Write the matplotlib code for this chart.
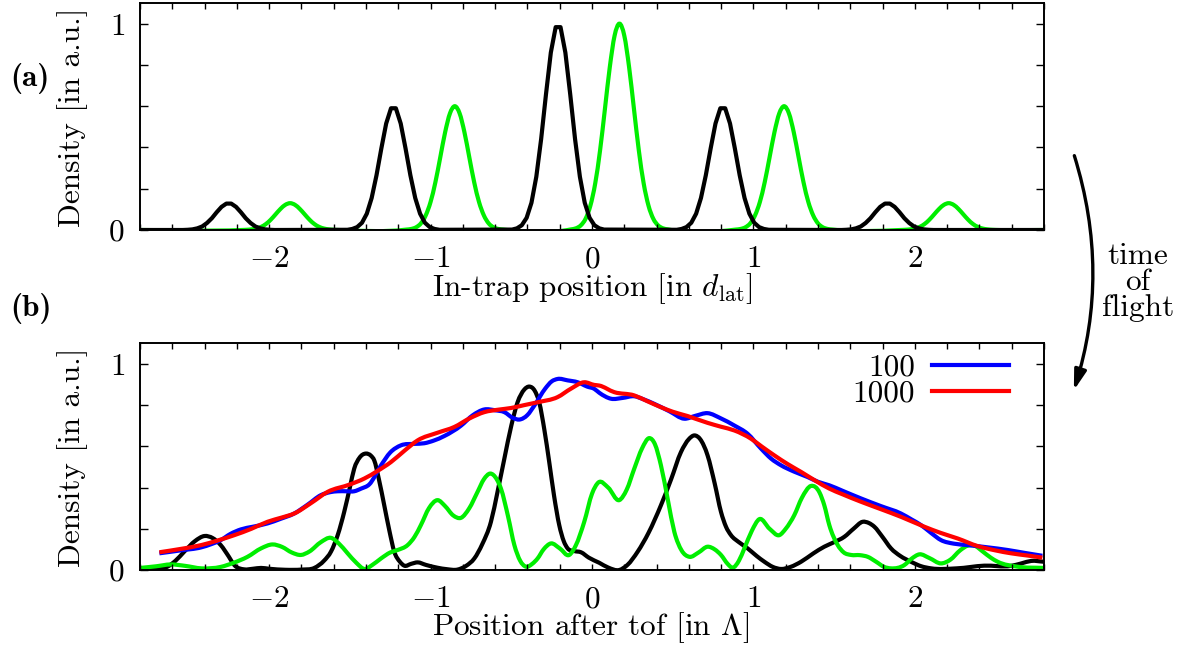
import matplotlib
matplotlib.use("Agg")
import matplotlib.pyplot as plt
from matplotlib.patches import FancyArrowPatch, PathPatch
from matplotlib.path import Path

plt.rcParams["font.family"] = "cmr10"
plt.rcParams["mathtext.fontset"] = "cm"
plt.rcParams["axes.unicode_minus"] = False

# ---------------- panel (a): in-trap densities ----------------
trap_black_x = [
    -2.80, -2.535, -2.505, -2.475, -2.445, -2.415, -2.385, -2.355, -2.325, -2.295, -2.265,
    -2.235, -2.205, -2.175, -2.145, -2.115, -2.085, -2.055, -2.025, -1.995, -1.965,
    -1.515, -1.485, -1.455, -1.425, -1.395, -1.365, -1.335, -1.305, -1.275, -1.245,
    -1.215, -1.185, -1.155, -1.125, -1.095, -1.065, -1.035, -1.005, -0.975, -0.945,
    -0.495, -0.465, -0.435, -0.405, -0.375, -0.345, -0.315, -0.285, -0.255, -0.225,
    -0.195, -0.165, -0.135, -0.105, -0.075, -0.045, -0.015, 0.015, 0.045, 0.075,
    0.525, 0.555, 0.585, 0.615, 0.645, 0.675, 0.705, 0.735, 0.765, 0.795,
    0.825, 0.855, 0.885, 0.915, 0.945, 0.975, 1.005, 1.035, 1.065, 1.095,
    1.545, 1.575, 1.605, 1.635, 1.665, 1.695, 1.725, 1.755, 1.785, 1.815,
    1.845, 1.875, 1.905, 1.935, 1.965, 1.995, 2.025, 2.055, 2.085, 2.115, 2.80,
]
trap_black_y = [
    0.000, 0.000, 0.001, 0.003, 0.008, 0.017, 0.034, 0.057, 0.086, 0.112, 0.128,
    0.128, 0.112, 0.086, 0.057, 0.034, 0.017, 0.008, 0.003, 0.001, 0.000,
    0.001, 0.005, 0.014, 0.035, 0.079, 0.155, 0.265, 0.395, 0.516, 0.590,
    0.590, 0.516, 0.395, 0.265, 0.155, 0.079, 0.035, 0.014, 0.005, 0.001,
    0.002, 0.008, 0.023, 0.059, 0.132, 0.258, 0.441, 0.658, 0.860, 0.983,
    0.983, 0.860, 0.658, 0.441, 0.258, 0.132, 0.059, 0.023, 0.008, 0.002,
    0.001, 0.005, 0.014, 0.035, 0.079, 0.155, 0.265, 0.395, 0.516, 0.590,
    0.590, 0.516, 0.395, 0.265, 0.155, 0.079, 0.035, 0.014, 0.005, 0.001,
    0.000, 0.001, 0.003, 0.008, 0.017, 0.034, 0.057, 0.086, 0.112, 0.128,
    0.128, 0.112, 0.086, 0.057, 0.034, 0.017, 0.008, 0.003, 0.001, 0.000, 0.000,
]

trap_green_x = [
    -2.80,
    -2.17, -2.14, -2.11, -2.08, -2.05, -2.02, -1.99, -1.96, -1.93, -1.90, -1.87,
    -1.84, -1.81, -1.78, -1.75, -1.72, -1.69, -1.66, -1.63, -1.60, -1.57,
    -1.15, -1.12, -1.09, -1.06, -1.03, -1.00, -0.97, -0.94, -0.91, -0.88, -0.85,
    -0.82, -0.79, -0.76, -0.73, -0.70, -0.67, -0.64, -0.61, -0.58, -0.55,
    -0.13, -0.10, -0.07, -0.04, -0.01, 0.02, 0.05, 0.08, 0.11, 0.14, 0.17,
    0.20, 0.23, 0.26, 0.29, 0.32, 0.35, 0.38, 0.41, 0.44, 0.47,
    0.89, 0.92, 0.95, 0.98, 1.01, 1.04, 1.07, 1.10, 1.13, 1.16, 1.19,
    1.22, 1.25, 1.28, 1.31, 1.34, 1.37, 1.40, 1.43, 1.46, 1.49,
    1.91, 1.94, 1.97, 2.00, 2.03, 2.06, 2.09, 2.12, 2.15, 2.18, 2.21,
    2.24, 2.27, 2.30, 2.33, 2.36, 2.39, 2.42, 2.45, 2.48, 2.51,
    2.80,
]
trap_green_y = [
    0.000,
    0.000, 0.001, 0.003, 0.007, 0.015, 0.029, 0.050, 0.076, 0.102, 0.122, 0.130,
    0.122, 0.102, 0.076, 0.050, 0.029, 0.015, 0.007, 0.003, 0.001, 0.000,
    0.002, 0.005, 0.013, 0.032, 0.071, 0.136, 0.232, 0.352, 0.473, 0.565, 0.600,
    0.565, 0.473, 0.352, 0.232, 0.136, 0.071, 0.032, 0.013, 0.005, 0.002,
    0.003, 0.008, 0.022, 0.054, 0.118, 0.226, 0.386, 0.586, 0.788, 0.942, 1.000,
    0.942, 0.788, 0.586, 0.386, 0.226, 0.118, 0.054, 0.022, 0.008, 0.003,
    0.002, 0.005, 0.013, 0.032, 0.071, 0.136, 0.232, 0.352, 0.473, 0.565, 0.600,
    0.565, 0.473, 0.352, 0.232, 0.136, 0.071, 0.032, 0.013, 0.005, 0.002,
    0.000, 0.001, 0.003, 0.007, 0.015, 0.029, 0.050, 0.076, 0.102, 0.122, 0.130,
    0.122, 0.102, 0.076, 0.050, 0.029, 0.015, 0.007, 0.003, 0.001, 0.000,
    0.000,
]

# ---------------- panel (b): densities after time of flight ----------------
tof_black_x = [
    -2.80, -2.70, -2.63, -2.58, -2.526, -2.46, -2.40, -2.35, -2.30, -2.25, -2.216,
    -2.154, -2.10, -2.05, -2.00, -1.90, -1.80, -1.72, -1.66, -1.617, -1.575,
    -1.535, -1.50, -1.473, -1.44, -1.40, -1.37, -1.349, -1.32, -1.287, -1.255,
    -1.225, -1.19, -1.163, -1.12, -1.08, -1.03, -0.957, -0.90, -0.833, -0.78,
    -0.729, -0.68, -0.626, -0.585, -0.543, -0.50, -0.461, -0.42, -0.388, -0.355,
    -0.327, -0.295, -0.265, -0.235, -0.203, -0.175, -0.151, -0.11, -0.068, -0.02,
    0.045, 0.10, 0.169, 0.22, 0.283, 0.35, 0.427, 0.49, 0.551, 0.60,
    0.634, 0.67, 0.716, 0.76, 0.799, 0.83, 0.861, 0.91, 0.964, 1.02,
    1.068, 1.12, 1.171, 1.23, 1.295, 1.37, 1.439, 1.50, 1.563, 1.62,
    1.677, 1.715, 1.749, 1.80, 1.852, 1.91, 1.976, 2.04, 2.10, 2.26,
    2.43, 2.596, 2.66, 2.72, 2.80,
]
tof_black_y = [
    0.000, 0.005, 0.016, 0.045, 0.089, 0.140, 0.165, 0.155, 0.121, 0.065, 0.024,
    0.003, 0.006, 0.010, 0.006, 0.001, 0.002, 0.010, 0.045, 0.089, 0.170,
    0.282, 0.400, 0.492, 0.545, 0.565, 0.555, 0.532, 0.440, 0.314, 0.190,
    0.089, 0.040, 0.021, 0.030, 0.037, 0.025, 0.011, 0.004, 0.002, 0.020,
    0.056, 0.125, 0.234, 0.380, 0.540, 0.700, 0.814, 0.875, 0.890, 0.870,
    0.814, 0.680, 0.524, 0.360, 0.218, 0.140, 0.105, 0.092, 0.086, 0.060,
    0.035, 0.012, 0.000, 0.025, 0.089, 0.180, 0.314, 0.440, 0.572, 0.635,
    0.653, 0.635, 0.556, 0.420, 0.282, 0.210, 0.169, 0.135, 0.105, 0.068,
    0.040, 0.015, 0.005, 0.015, 0.040, 0.080, 0.113, 0.135, 0.161, 0.200,
    0.234, 0.228, 0.210, 0.160, 0.105, 0.068, 0.040, 0.018, 0.008, 0.008,
    0.021, 0.020, 0.032, 0.044, 0.040,
]

tof_green_x = [
    -2.80, -2.70, -2.61, -2.52, -2.42, -2.30, -2.22, -2.134, -2.05, -1.979, -1.92,
    -1.86, -1.803, -1.75, -1.68, -1.617, -1.57, -1.514, -1.46, -1.41, -1.36,
    -1.307, -1.25, -1.204, -1.142, -1.10, -1.06, -1.01, -0.957, -0.91, -0.86,
    -0.812, -0.76, -0.709, -0.67, -0.630, -0.59, -0.564, -0.52, -0.481, -0.445,
    -0.409, -0.37, -0.337, -0.30, -0.254, -0.20, -0.141, -0.10, -0.048, 0.00,
    0.04, 0.10, 0.169, 0.215, 0.262, 0.31, 0.355, 0.39, 0.427, 0.47,
    0.51, 0.555, 0.603, 0.66, 0.716, 0.76, 0.799, 0.84, 0.871, 0.91,
    0.944, 0.99, 1.037, 1.10, 1.16, 1.20, 1.253, 1.30, 1.357, 1.41,
    1.439, 1.47, 1.522, 1.56, 1.605, 1.66, 1.708, 1.76, 1.81, 1.852,
    1.935, 1.98, 2.028, 2.09, 2.162, 2.22, 2.28, 2.327, 2.37, 2.42,
    2.47, 2.513, 2.637, 2.80,
]
tof_green_y = [
    0.010, 0.018, 0.027, 0.020, 0.008, 0.015, 0.035, 0.064, 0.105, 0.124, 0.112,
    0.085, 0.073, 0.090, 0.135, 0.156, 0.130, 0.081, 0.035, 0.005, 0.025,
    0.056, 0.085, 0.097, 0.121, 0.160, 0.218, 0.300, 0.339, 0.310, 0.265,
    0.253, 0.300, 0.379, 0.440, 0.468, 0.440, 0.395, 0.260, 0.121, 0.045,
    0.016, 0.030, 0.056, 0.100, 0.129, 0.105, 0.073, 0.120, 0.234, 0.370,
    0.425, 0.400, 0.339, 0.390, 0.492, 0.590, 0.640, 0.610, 0.508, 0.340,
    0.185, 0.095, 0.064, 0.085, 0.113, 0.100, 0.073, 0.030, 0.011, 0.045,
    0.105, 0.190, 0.247, 0.200, 0.169, 0.200, 0.266, 0.350, 0.408, 0.375,
    0.314, 0.218, 0.121, 0.085, 0.073, 0.072, 0.064, 0.040, 0.015, 0.008,
    0.024, 0.055, 0.076, 0.058, 0.032, 0.050, 0.095, 0.118, 0.118, 0.090,
    0.060, 0.040, 0.016, 0.010,
]

tof100_x = [
    -2.68, -2.55, -2.42, -2.36, -2.30, -2.24, -2.175, -2.10, -2.01, -1.93, -1.845,
    -1.76, -1.68, -1.62, -1.576, -1.52, -1.473, -1.43, -1.38, -1.307, -1.25,
    -1.183, -1.10, -1.039, -0.98, -0.915, -0.812, -0.74, -0.667, -0.60, -0.543,
    -0.49, -0.45, -0.40, -0.357, -0.29, -0.25, -0.213, -0.15, -0.089, -0.03,
    0.014, 0.045, 0.118, 0.19, 0.262, 0.32, 0.386, 0.48, 0.572, 0.64,
    0.716, 0.80, 0.882, 0.964, 1.047, 1.11, 1.171, 1.25, 1.336, 1.40,
    1.47, 1.55, 1.667, 1.79, 1.914, 1.98, 2.038, 2.10, 2.162, 2.24,
    2.327, 2.45, 2.575, 2.68, 2.79,
]
tof100_y = [
    0.081, 0.095, 0.110, 0.125, 0.145, 0.175, 0.197, 0.210, 0.226, 0.248, 0.274,
    0.318, 0.363, 0.378, 0.382, 0.382, 0.382, 0.395, 0.415, 0.508, 0.570,
    0.605, 0.612, 0.615, 0.628, 0.650, 0.700, 0.750, 0.779, 0.775, 0.766,
    0.738, 0.730, 0.752, 0.798, 0.880, 0.915, 0.927, 0.920, 0.911, 0.890,
    0.879, 0.860, 0.831, 0.835, 0.843, 0.828, 0.806, 0.770, 0.734, 0.748,
    0.761, 0.735, 0.701, 0.661, 0.589, 0.540, 0.508, 0.478, 0.451, 0.428,
    0.411, 0.385, 0.347, 0.310, 0.274, 0.245, 0.218, 0.180, 0.145, 0.128,
    0.121, 0.110, 0.097, 0.083, 0.069,
]

tof1000_x = [
    -2.68, -2.55, -2.42, -2.32, -2.216, -2.11, -2.01, -1.92, -1.845, -1.74, -1.638,
    -1.50, -1.41, -1.33, -1.245, -1.16, -1.08, -0.957, -0.853, -0.76, -0.667,
    -0.58, -0.502, -0.42, -0.337, -0.213, -0.13, -0.048, 0.014, 0.045, 0.138,
    0.262, 0.34, 0.427, 0.50, 0.592, 0.716, 0.80, 0.882, 0.985, 1.05,
    1.13, 1.21, 1.295, 1.38, 1.47, 1.55, 1.667, 1.79, 1.914, 2.059,
    2.16, 2.265, 2.389, 2.50, 2.596, 2.70, 2.79,
]
tof1000_y = [
    0.086, 0.102, 0.121, 0.143, 0.169, 0.200, 0.234, 0.255, 0.274, 0.325, 0.379,
    0.415, 0.444, 0.480, 0.524, 0.580, 0.629, 0.666, 0.694, 0.735, 0.766,
    0.778, 0.786, 0.800, 0.814, 0.839, 0.880, 0.911, 0.898, 0.895, 0.863,
    0.847, 0.820, 0.790, 0.768, 0.747, 0.714, 0.695, 0.677, 0.637, 0.600,
    0.556, 0.515, 0.476, 0.435, 0.395, 0.368, 0.331, 0.295, 0.258, 0.210,
    0.180, 0.153, 0.116, 0.095, 0.081, 0.070, 0.060,
]

x_ticks = [-2.8, -2.6, -2.4, -2.2, -2.0, -1.8, -1.6, -1.4, -1.2, -1.0, -0.8, -0.6,
           -0.4, -0.2, 0.0, 0.2, 0.4, 0.6, 0.8, 1.0, 1.2, 1.4, 1.6, 1.8, 2.0,
           2.2, 2.4, 2.6, 2.8]
x_labelled = [-2, -1, 0, 1, 2]
y_ticks = [0.0, 0.2, 0.4, 0.6, 0.8, 1.0]
legend_labels = ["100", "1000"]

GREEN = "#00ee00"
LW = 3.0
FS = 22.5


def smooth_path(xs, ys):
    """Cubic Bezier path passing through every (x, y) sample with C1 joins."""
    n = len(xs)
    slopes = []
    for i in range(n):
        if i == 0:
            slopes.append((ys[1] - ys[0]) / (xs[1] - xs[0]))
        elif i == n - 1:
            slopes.append((ys[-1] - ys[-2]) / (xs[-1] - xs[-2]))
        else:
            h0 = xs[i] - xs[i - 1]
            h1 = xs[i + 1] - xs[i]
            d0 = (ys[i] - ys[i - 1]) / h0
            d1 = (ys[i + 1] - ys[i]) / h1
            slopes.append((d0 * h1 + d1 * h0) / (h0 + h1))
    verts = [(xs[0], ys[0])]
    codes = [Path.MOVETO]
    for i in range(n - 1):
        h = xs[i + 1] - xs[i]
        verts += [(xs[i] + h / 3, ys[i] + slopes[i] * h / 3),
                  (xs[i + 1] - h / 3, ys[i + 1] - slopes[i + 1] * h / 3),
                  (xs[i + 1], ys[i + 1])]
        codes += [Path.CURVE4] * 3
    return Path(verts, codes)


def draw_curve(ax, xs, ys, color, label=None):
    ax.add_patch(PathPatch(smooth_path(xs, ys), facecolor="none", edgecolor=color,
                           lw=LW, joinstyle="round", capstyle="butt"))
    if label is not None:
        ax.plot([], [], color=color, lw=LW, label=label)


fig = plt.figure(figsize=(11.8, 6.5), dpi=100)
W, H = 1180.0, 650.0
ax_a = fig.add_axes([140 / W, 1 - 230 / H, 904 / W, 227 / H])
ax_b = fig.add_axes([140 / W, 1 - 570 / H, 904 / W, 226.7 / H])

for ax in (ax_a, ax_b):
    ax.set_xlim(-2.8, 2.8)
    ax.set_ylim(0, 1.1)
    ax.set_xticks(x_ticks)
    ax.set_xticklabels([("$%d$" % round(t)) if abs(t - round(t)) < 1e-9 and round(t) in x_labelled else ""
                        for t in x_ticks])
    ax.set_yticks(y_ticks)
    ax.set_yticklabels(["$0$", "", "", "", "", "$1$"])
    ax.tick_params(direction="in", top=True, right=True, labelsize=FS,
                   width=1.0, pad=11)
    ax.tick_params(axis="x", length=4.5)
    ax.tick_params(axis="y", length=6)
    for s in ax.spines.values():
        s.set_linewidth(1.4)

ax_a.plot(trap_black_x, trap_black_y, color="black", lw=LW, solid_joinstyle="round")
draw_curve(ax_a, trap_green_x, trap_green_y, GREEN)

draw_curve(ax_b, tof_black_x, tof_black_y, "black")
draw_curve(ax_b, tof_green_x, tof_green_y, GREEN)
draw_curve(ax_b, tof100_x, tof100_y, "#0000ff", legend_labels[0])
draw_curve(ax_b, tof1000_x, tof1000_y, "#ff0000", legend_labels[1])

ax_b.legend(loc="upper right", bbox_to_anchor=(0.9613, 0.955), frameon=False,
            markerfirst=False, fontsize=FS, handlelength=2.45, handletextpad=0.55,
            labelspacing=-0.05, borderpad=0.0, borderaxespad=0.0)

# axis labels
fig.text(73 / W, 1 - 117.5 / H, "Density [in a.u.]", rotation=90,
         ha="center", va="center", fontsize=FS)
fig.text(73 / W, 1 - 457.5 / H, "Density [in a.u.]", rotation=90,
         ha="center", va="center", fontsize=FS)
fig.text(592 / W, 1 - 289 / H, r"In-trap position [in $d_{\mathrm{lat}}$]",
         ha="center", va="center", fontsize=FS)
fig.text(591 / W, 1 - 628 / H, r"Position after tof [in $\Lambda$]",
         ha="center", va="center", fontsize=FS)

# panel tags
fig.text(30 / W, 1 - 78 / H, "(a)", family="cmb10", ha="center", va="center",
         fontsize=FS)
fig.text(31 / W, 1 - 309 / H, "(b)", family="cmb10", ha="center", va="center",
         fontsize=FS)

# time-of-flight arrow between the panels
arrow = FancyArrowPatch((1073.5 / W, 1 - 153 / H), (1073 / W, 1 - 393 / H),
                        transform=fig.transFigure,
                        connectionstyle="arc3,rad=-0.16",
                        arrowstyle="-|>,head_length=0.6,head_width=0.18",
                        mutation_scale=20, lw=2.4, color="black")
fig.patches.append(arrow)
fig.text(1138 / W, 1 - 282 / H, "time\nof\nflight", ha="center", va="center",
         multialignment="center", linespacing=0.92, fontsize=FS)

fig.savefig("out.png", dpi=100)
